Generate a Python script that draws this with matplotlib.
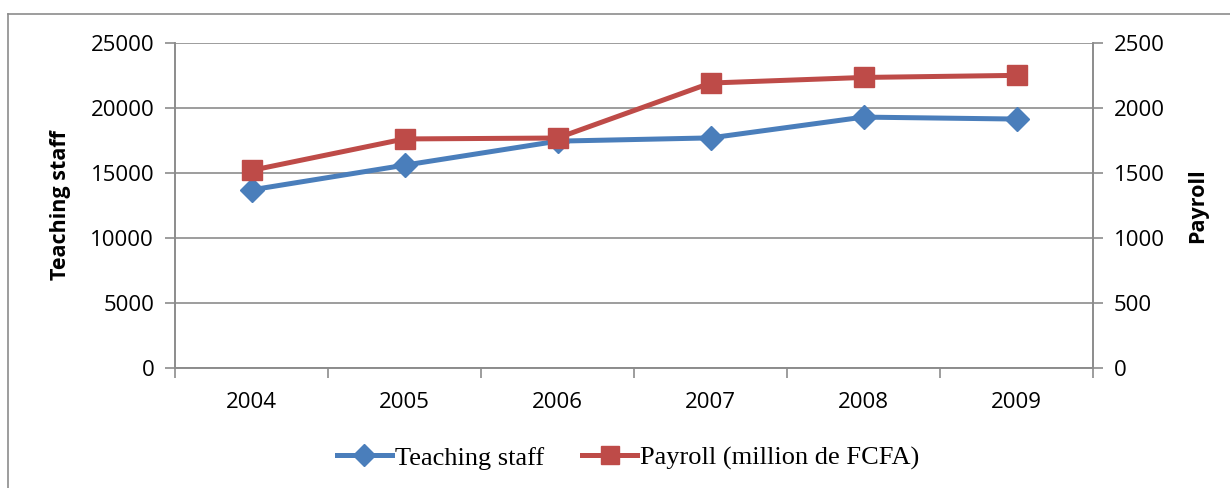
import matplotlib as mpl
import matplotlib.pyplot as plt
from matplotlib.lines import Line2D

mpl.use('Agg')

years = ['2004', '2005', '2006', '2007', '2008', '2009']
teaching_staff = [13700, 15600, 17450, 17700, 19300, 19150]
payroll = [1520, 1762, 1769, 2192, 2235, 2251]

blue = '#4A7EBB'
red = '#BE4B48'
grey = '#8C8C8C'

fig = plt.figure(figsize=(12.3, 4.88), dpi=100)

# outer frame (top and left edges only visible)
fig.add_artist(Line2D([8/1230, 1], [1 - 14/488, 1 - 14/488], color=grey, lw=1.2, transform=fig.transFigure))
fig.add_artist(Line2D([8/1230, 8/1230], [0, 1 - 14/488], color=grey, lw=1.2, transform=fig.transFigure))

ax = fig.add_axes([175/1230, 120/488, 918/1230, 325/488])
ax2 = ax.twinx()

x = list(range(len(years)))

ax.set_ylim(0, 25000)
ax.set_yticks(range(0, 25001, 5000))
ax2.set_ylim(0, 2500)
ax2.set_yticks(range(0, 2501, 500))
ax.set_xlim(-0.5, len(years) - 0.5)

ax.grid(axis='y', color=grey, lw=1.2)
ax.set_axisbelow(True)

for s in ['top']:
    ax.spines[s].set_visible(False)
    ax2.spines[s].set_visible(False)
for a in (ax, ax2):
    for s in ['left', 'right', 'bottom']:
        a.spines[s].set_color(grey)
        a.spines[s].set_linewidth(1.2)

ax.set_xticks(x)
ax.set_xticklabels(years)
ax.set_xticks([i - 0.5 for i in range(len(years) + 1)], minor=True)
ax.tick_params(axis='x', which='major', length=0, pad=17)
ax.tick_params(axis='x', which='minor', length=7, color=grey, width=1.2)
ax.tick_params(axis='y', length=7, color=grey, width=1.2, pad=8)
ax2.tick_params(axis='y', length=7, color=grey, width=1.2, pad=8)

tick_font = 'Open Sans'
for lab in ax.get_xticklabels() + ax.get_yticklabels() + ax2.get_yticklabels():
    lab.set_fontfamily(tick_font)
    lab.set_fontsize(16)

ax.plot(x, teaching_staff, color=blue, lw=3.6, marker='D', markersize=12,
        label='Teaching staff', zorder=3)
ax2.plot(x, payroll, color=red, lw=3.6, marker='s', markersize=14,
         label='Payroll (million de FCFA)', zorder=3)

ax.set_ylabel('Teaching staff', fontfamily='Open Sans', fontweight='bold', fontsize=15.5, labelpad=14)
ax2.set_ylabel('Payroll', fontfamily='Open Sans', fontweight='bold', fontsize=15.5, rotation=90, labelpad=16)

handles = [Line2D([], [], color=blue, lw=3.6, marker='D', markersize=11),
           Line2D([], [], color=red, lw=3.6, marker='s', markersize=13)]
fig.legend(handles, ['Teaching staff', 'Payroll (million de FCFA)'],
           loc='center', bbox_to_anchor=(628/1230, 1 - 458/488), ncol=2,
           frameon=False, handlelength=2.1, handletextpad=0.1, columnspacing=1.45,
           prop={'family': 'Liberation Serif', 'size': 19})

fig.savefig('out.png', dpi=100)
